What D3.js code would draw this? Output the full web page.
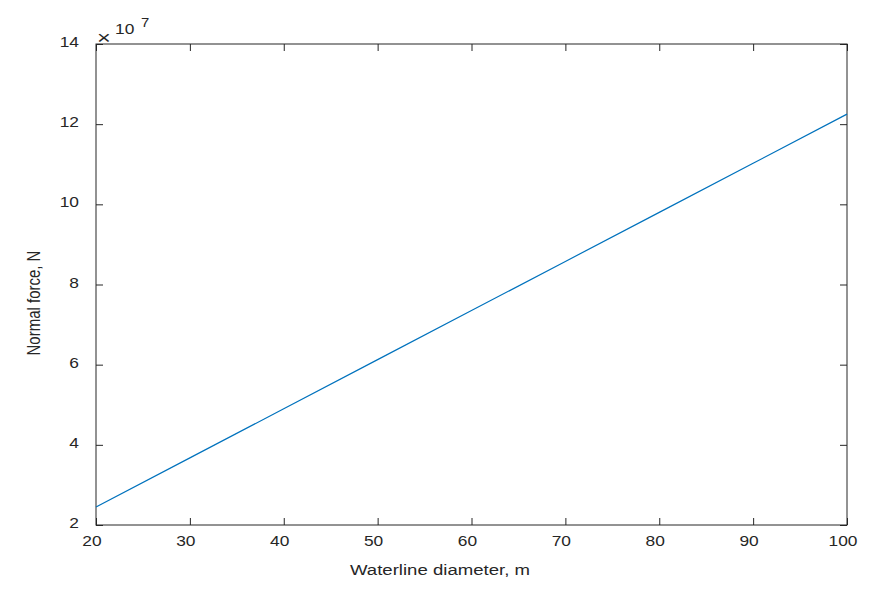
<!DOCTYPE html>
<html><head><meta charset="utf-8">
<script src="https://cdn.jsdelivr.net/npm/d3@7"></script>
<style>body{margin:0;background:#fff;} text{font-family:"Liberation Sans",Arial,sans-serif;}</style>
</head><body>
<svg id="c" width="884" height="596"></svg>
<script>
const diameters = [20, 30, 40, 50, 60, 70, 80, 90, 100];
const normalForce = [2.45, 3.675, 4.9, 6.125, 7.35, 8.575, 9.8, 11.025, 12.25]; // x 10^7 N
const xTicks = [20, 30, 40, 50, 60, 70, 80, 90, 100];
const yTicks = [2, 4, 6, 8, 10, 12, 14];

const svg = d3.select('#c');
const L = 96, R = 847, T = 44, B = 525;
const x = d3.scaleLinear().domain([20, 100]).range([L, R]);
const y = d3.scaleLinear().domain([2, 14]).range([B, T]);
const axisCol = '#262626';
const tl = 7;
const SX = 1.24; // horizontal stretch of the reference text

// box
svg.append('rect').attr('x', L).attr('y', T).attr('width', R - L).attr('height', B - T)
  .attr('fill', 'none').attr('stroke', axisCol).attr('stroke-width', 1);

// tick marks (inward, mirrored)
const bx = svg.append('g').attr('transform', `translate(0,${B})`)
  .call(d3.axisBottom(x).tickValues(xTicks).tickSizeInner(-tl).tickSizeOuter(0).tickFormat(''));
const tx = svg.append('g').attr('transform', `translate(0,${T})`)
  .call(d3.axisTop(x).tickValues(xTicks).tickSizeInner(-tl).tickSizeOuter(0).tickFormat(''));
const ly = svg.append('g').attr('transform', `translate(${L},0)`)
  .call(d3.axisLeft(y).tickValues(yTicks).tickSizeInner(-tl).tickSizeOuter(0).tickFormat(''));
const ry = svg.append('g').attr('transform', `translate(${R},0)`)
  .call(d3.axisRight(y).tickValues(yTicks).tickSizeInner(-tl).tickSizeOuter(0).tickFormat(''));
[bx, tx, ly, ry].forEach(g => {
  g.select('.domain').remove();
  g.selectAll('line').attr('stroke', axisCol);
});

// tick labels (stretched horizontally like the reference)
svg.append('g').selectAll('text').data(xTicks).join('text')
  .attr('transform', d => `translate(${x(d) - 4},546) scale(${SX},1)`)
  .attr('text-anchor', 'middle').attr('font-size', 14).attr('fill', '#262626')
  .text(d => d);
svg.append('g').selectAll('text').data(yTicks).join('text')
  .attr('transform', d => `translate(79,${y(d) + 3}) scale(${SX},1)`)
  .attr('text-anchor', 'end').attr('font-size', 14).attr('fill', '#262626')
  .text(d => d);

// line
svg.append('path').datum(diameters.map((d, i) => [d, normalForce[i]]))
  .attr('d', d3.line().x(d => x(d[0])).y(d => y(d[1])))
  .attr('fill', 'none').attr('stroke', '#0072BD').attr('stroke-width', 1.2);

// exponent
svg.append('text').attr('transform', `translate(97,43.5) scale(${SX},1)`)
  .attr('font-size', 19).attr('font-weight', 300).attr('fill', '#262626').text('\u00d7');
svg.append('text').attr('transform', `translate(115,34) scale(${SX},1)`)
  .attr('font-size', 14).attr('fill', '#262626').text('10');
svg.append('text').attr('transform', `translate(141,27) scale(${SX},1)`)
  .attr('font-size', 12).attr('fill', '#262626').text('7');

// labels
svg.append('text').attr('transform', `translate(440,575) scale(${SX},1)`).attr('text-anchor', 'middle')
  .attr('font-size', 15).attr('fill', '#262626').text('Waterline diameter, m');
svg.append('text').attr('transform', `translate(40,303) scale(${SX},1) rotate(-90)`)
  .attr('text-anchor', 'middle').attr('font-size', 15).attr('fill', '#262626').text('Normal force, N');
</script>
</body></html>
